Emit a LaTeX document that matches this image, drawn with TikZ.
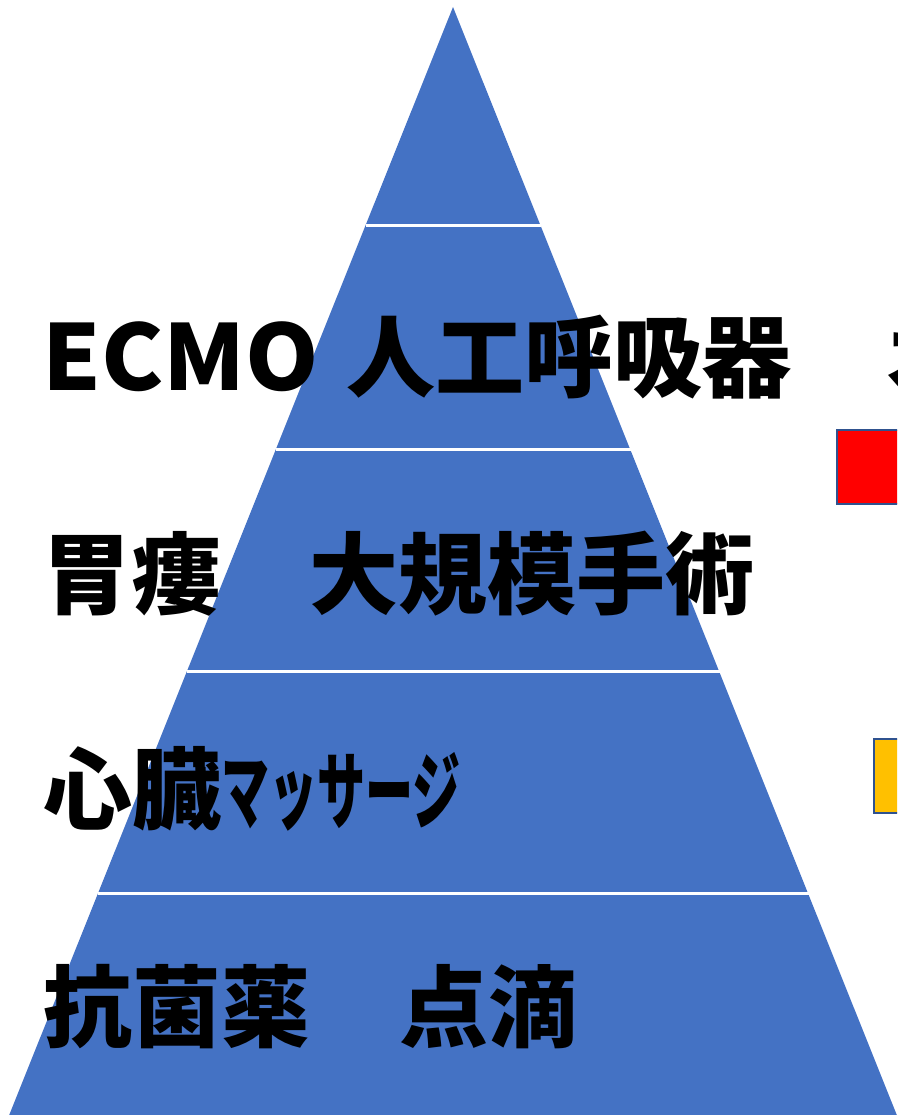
\documentclass[tikz,border=0pt]{standalone}
\usepackage{fontspec}
\usepackage{graphicx}
\setmainfont{Noto Sans CJK JP}
\definecolor{pyblue}{HTML}{4472C4}
\definecolor{boxedge}{HTML}{2F528F}
\definecolor{ored}{HTML}{FF0000}
\definecolor{oyellow}{HTML}{FFC000}
\tikzset{
  lbl/.style={anchor=west, inner sep=0pt, font=\fontsize{89}{89}\selectfont\bfseries, text=black},
  sep/.style={draw=white, line width=3pt},
  legendbox/.style={draw=boxedge, line width=2pt}
}
\begin{document}
\begin{tikzpicture}[x=1pt,y=-1pt]
\useasboundingbox (0,0) rectangle (897,1115);
\clip (0,0) rectangle (897,1115);
% pyramid
\coordinate (apex) at (453,7);
\coordinate (bl) at (8,1118);
\coordinate (br) at (898,1118);
\fill[pyblue] (apex) -- (bl) -- (br) -- cycle;
% separators
\draw[sep] (366,226) -- (541,226);
\draw[sep] (276,449) -- (631,449);
\draw[sep] (187,671) -- (720,671);
\draw[sep] (98,893) -- (809,893);
% legend boxes (cropped at right)
\node[legendbox, fill=ored, minimum width=70pt, minimum height=74pt, anchor=north west, inner sep=0pt] (redbox) at (836,429) {};
\node[legendbox, fill=oyellow, minimum width=70pt, minimum height=74pt, anchor=north west, inner sep=0pt] (yellowbox) at (873,738) {};
% labels
\node[lbl] (l1) at (42,357) {\scalebox{1.05}[1.02]{ECMO}\hspace{28pt}人工呼吸器};
\node[lbl] (l1b) at (884,357) {オ};
\node[lbl] (l2) at (42,574) {胃瘻　大規模手術};
\node[lbl] (l3) at (43,789) {心臓\scalebox{0.54}[0.95]{マッサージ}};
\node[lbl] (l4) at (43,1007) {抗菌薬　点滴};
\end{tikzpicture}
\end{document}
